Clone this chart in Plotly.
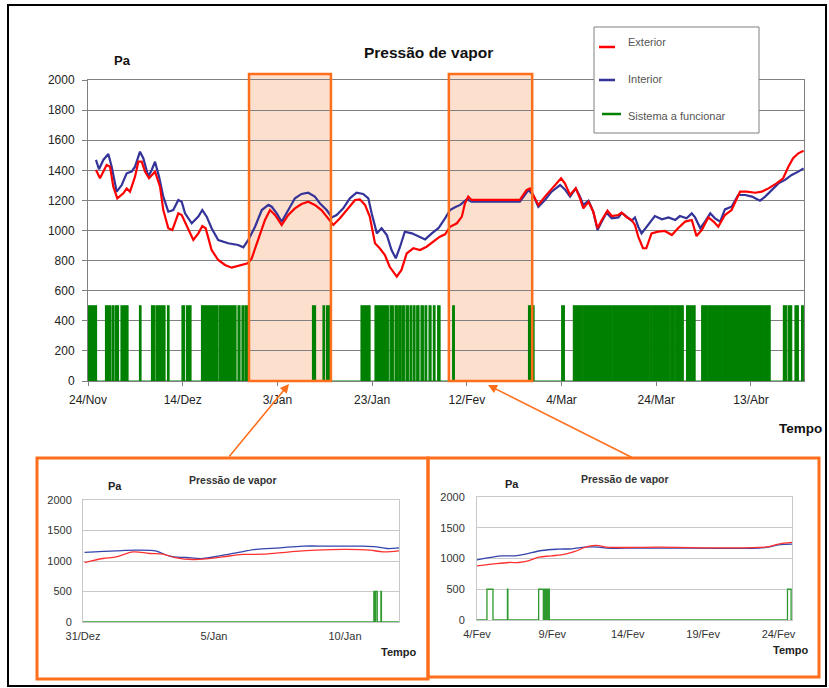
import pandas as pd
import plotly.graph_objects as go

# ---------------- DATA ----------------
START_MAIN = pd.Timestamp("2006-11-24")
START_IN1 = pd.Timestamp("2006-12-31")
START_IN2 = pd.Timestamp("2007-02-04")

main_tick_days = [0, 20, 40, 60, 80, 100, 120, 140]
main_tick_labels = ["24/Nov", "14/Dez", "3/Jan", "23/Jan", "12/Fev", "4/Mar", "24/Mar", "13/Abr"]
main_span_days = 151.2

interior_days = [1.69, 2.32, 3.23, 4.29, 5.0, 6.06, 7.12, 8.17, 9.23, 9.93, 10.98, 11.68, 12.73, 13.45,
                 14.15, 15.0, 15.9, 16.96, 18.0, 19.07, 19.79, 20.49, 21.9, 23.3, 24.14, 25.07, 26.1,
                 27.5, 29.6, 31.7, 32.8, 33.85, 35.27, 36.7, 38.1, 38.8, 39.85, 40.9, 42.3, 43.7, 45.1,
                 46.5, 47.9, 49.0, 50.4, 51.5, 52.5, 53.9, 55.3, 56.7, 58.1, 59.2, 59.9, 61.0, 62.0,
                 63.1, 64.1, 65.0, 65.9, 66.9, 68.4, 69.8, 71.2, 72.6, 74.0, 75.4, 76.45, 77.5, 78.6,
                 80.0, 81.0, 86.0, 91.2, 93.0, 94.0, 95.1, 96.5, 97.9, 99.7, 100.7, 101.8, 103.0,
                 103.9, 104.6, 105.7, 106.7, 107.6, 108.5, 109.5, 110.6, 112.0, 112.7, 113.8, 114.8,
                 115.5, 116.2, 116.9, 118.3, 119.7, 121.2, 122.6, 124.0, 125.0, 126.4, 127.5, 128.2,
                 129.3, 130.3, 131.4, 132.4, 133.5, 134.5, 135.9, 137.3, 138.8, 140.2, 141.9, 143.0,
                 144.4, 145.8, 147.2, 148.6, 150.0, 151.1]
interior_pa = [1469, 1407, 1469, 1508, 1424, 1258, 1302, 1380, 1391, 1424, 1524, 1480, 1358, 1402,
               1457, 1358, 1225, 1125, 1136, 1203, 1191, 1114, 1048, 1092, 1136, 1092, 1015,
               937, 915, 904, 888, 937, 1025, 1136, 1170, 1158, 1114, 1058, 1136, 1214, 1243,
               1251, 1225, 1180, 1136, 1087, 1103, 1147, 1214, 1251, 1243, 1214, 1114, 981, 1015,
               970, 870, 815, 892, 992, 981, 959, 941, 981, 1015, 1081, 1136, 1154, 1170,
               1207, 1191, 1191, 1191, 1269, 1236, 1158, 1203, 1258, 1302, 1273, 1225, 1280,
               1225, 1170, 1198, 1125, 1003, 1059, 1118, 1081, 1087, 1118, 1087, 1065,
               1087, 1025, 981, 1037, 1096, 1074, 1087, 1070, 1096, 1081, 1114, 1087,
               1015, 1059, 1114, 1081, 1059, 1140, 1158, 1236, 1236, 1225, 1198, 1225,
               1269, 1313, 1336, 1369, 1391, 1413]

exterior_days = [1.69, 2.53, 3.94, 4.65, 5.35, 6.19, 7.46, 8.17, 8.87, 9.93, 10.63, 11.34, 12.04, 12.88,
                 14.15, 15.21, 15.9, 16.96, 17.81, 19.07, 19.79, 21.19, 22.24, 23.3, 24.14, 24.85,
                 26.1, 27.5, 28.93, 30.34, 31.74, 33.73, 34.57, 35.97, 37.38, 38.44, 39.49, 40.9,
                 42.3, 43.7, 45.1, 46.5, 47.9, 49.3, 50.75, 51.8, 53.2, 55.0, 56.4, 57.4, 58.5, 59.5,
                 60.6, 61.6, 62.7, 63.7, 65.2, 66.2, 67.3, 68.7, 70.1, 71.5, 72.9, 74.3, 75.4, 76.45,
                 77.9, 78.95, 79.6, 80.3, 81.0, 91.2, 92.6, 93.3, 94.0, 95.1, 96.5, 98.6, 99.9,
                 100.7, 101.8, 103.0, 103.9, 104.6, 105.7, 106.7, 107.6, 108.5, 109.7, 110.6, 112.0,
                 112.7, 113.8, 114.8, 115.5, 116.2, 117.2, 117.9, 119.0, 120.4, 121.8, 123.3, 124.6,
                 126.1, 127.5, 128.5, 129.6, 131.0, 132.1, 133.1, 134.5, 135.9, 137.7, 139.1, 140.9,
                 142.3, 143.7, 145.4, 146.8, 147.9, 148.9, 150.0, 151.1]
exterior_pa = [1402, 1347, 1435, 1424, 1291, 1214, 1247, 1280, 1258, 1358, 1457, 1457, 1391, 1347,
               1391, 1291, 1136, 1015, 1003, 1114, 1103, 1003, 937, 981, 1030, 1015,
               870, 804, 771, 753, 764, 782, 815, 937, 1070, 1136, 1103, 1037,
               1103, 1147, 1176, 1191, 1170, 1136, 1081, 1037, 1081, 1147, 1203, 1207, 1170, 1092,
               915, 882, 837, 759, 693, 738, 848, 882, 870, 892, 926, 959, 975, 1025,
               1048, 1092, 1180, 1225, 1203, 1203, 1269, 1280, 1236, 1170, 1225, 1302, 1347,
               1313, 1236, 1280, 1214, 1147, 1191, 1125, 1015, 1070, 1132, 1096, 1103,
               1118, 1087, 1070, 1037, 959, 882, 882, 981, 992, 997, 970, 1015,
               1059, 1070, 963, 1003, 1087, 1059, 1025, 1103, 1136, 1258, 1258, 1251,
               1258, 1280, 1313, 1347, 1424, 1480, 1513, 1530]

system_on_value = 500
system_on_intervals = [
    (0.11, 1.80), (3.70, 4.12), (4.33, 4.75), (5.07, 5.49), (5.81, 6.44), (6.97, 7.39), (7.60, 8.45),
    (10.88, 11.19), (13.41, 14.15), (14.47, 15.21), (15.42, 16.26), (16.79, 17.11),
    (19.85, 20.38), (20.80, 21.12), (21.33, 21.75),
    (23.97, 25.03), (25.24, 26.40), (26.61, 27.46), (27.77, 28.19), (28.41, 28.93), (29.14, 29.88),
    (30.10, 30.62), (30.83, 31.26), (31.68, 32.10), (32.52, 32.95), (33.26, 33.69),
    (47.41, 48.05), (49.63, 49.95), (50.37, 51.00),
    (57.66, 59.56), (60.61, 63.42), (63.78, 64.48), (64.84, 65.41), (65.68, 66.10), (66.38, 66.80),
    (67.16, 67.65), (68.00, 68.36), (68.70, 69.06), (69.42, 69.90), (70.33, 70.81), (71.17, 71.53),
    (72.02, 72.44), (72.93, 73.28), (73.85, 74.34),
    (77.02, 77.36), (93.03, 94.19), (100.04, 100.59),
    (102.5, 104.5), (104.6, 107.7), (107.8, 108.55), (108.7, 110.55), (110.7, 117.95),
    (118.05, 118.65), (118.75, 119.3), (119.45, 121.1), (121.2, 122.85), (122.95, 123.9),
    (124.0, 125.7), (126.4, 127.2), (127.4, 128.2),
    (129.6, 130.9), (131.05, 133.8), (133.9, 135.9), (136.0, 139.7), (139.9, 142.95), (143.05, 144.05),
    (146.85, 147.55), (147.9, 148.6), (149.3, 150.0), (150.7, 151.05),
]
zoom_windows = [(34.0, 51.3), (76.2, 93.8)]

# inset 1 (31/Dez - 12/Jan)
in1_tick_days = [0, 5, 10]
in1_tick_labels = ["31/Dez", "5/Jan", "10/Jan"]
in1_span_days = 12.06
in1_interior_days = [0.06, 1.27, 2.04, 2.8, 3.3, 3.94, 4.58, 5.15, 5.85, 6.6, 7.5, 8.4, 9.4, 10.7, 11.2, 11.6, 12.06]
in1_interior_pa = [1140, 1167, 1178, 1162, 1079, 1057, 1041, 1079, 1134, 1189, 1216, 1244, 1244, 1244, 1233, 1205, 1216]
in1_exterior_days = [0.06, 0.76, 1.27, 1.91, 2.54, 3.05, 3.56, 4.2, 4.71, 5.34, 6.1, 6.87, 7.9, 8.9, 10.05, 10.94, 11.45, 12.06]
in1_exterior_pa = [975, 1041, 1068, 1150, 1123, 1112, 1052, 1025, 1036, 1068, 1107, 1112, 1150, 1178, 1189, 1178, 1150, 1167]
in1_system_intervals = [(11.10, 11.14), (11.17, 11.23), (11.37, 11.39)]

# inset 2 (4/Fev - 24/Fev)
in2_tick_days = [0, 5, 10, 15, 20]
in2_tick_labels = ["4/Fev", "9/Fev", "14/Fev", "19/Fev", "24/Fev"]
in2_span_days = 20.9
in2_interior_days = [0.0, 1.0, 1.66, 2.54, 3.2, 4.3, 5.4, 6.3, 7.2, 8.07, 8.6, 9.8, 14.25, 18.7, 19.3, 20.0, 20.9]
in2_interior_pa = [978, 1022, 1043, 1043, 1071, 1130, 1152, 1158, 1185, 1185, 1168, 1168, 1168, 1168, 1185, 1223, 1234]
in2_exterior_days = [0.0, 1.0, 2.1, 2.76, 3.4, 4.1, 4.94, 5.86, 6.5, 7.2, 7.85, 8.18, 8.6, 12.0, 19.1, 20.0, 20.9]
in2_exterior_pa = [880, 908, 935, 935, 962, 1022, 1043, 1071, 1114, 1185, 1212, 1207, 1185, 1185, 1185, 1234, 1261]
in2_system_intervals = [(0.66, 1.06), (2.02, 2.05), (4.09, 4.40), (4.46, 4.50), (4.53, 4.60),
                        (4.62, 4.70), (4.72, 4.80), (20.6, 20.84)]

# ---------------- HELPERS ----------------
W, H = 829, 688
FONT = "Arial, Liberation Sans, sans-serif"
RED, BLUE, GREEN = "#FF0000", "#333399", "#008000"
ORANGE = "#FF6E1A"


def dates(start, days):
    return start + pd.to_timedelta(pd.Series(days, dtype=float), unit="D")


def step_series(intervals, end, high):
    xs, ys = [0.0], [0]
    for s, e in intervals:
        xs += [s, s, e, e]
        ys += [0, high, high, 0]
    xs.append(end)
    ys.append(0)
    return xs, ys


def px(x):
    return x / W


def py(y):
    return 1 - y / H


fig = go.Figure()

# main chart
gx, gy = step_series(system_on_intervals, main_span_days, system_on_value)
fig.add_trace(go.Scatter(x=dates(START_MAIN, gx), y=gy, mode="lines", fill="tozeroy",
                         fillcolor=GREEN, line=dict(color=GREEN, width=1.2),
                         xaxis="x", yaxis="y", name="Sistema a funcionar"))
fig.add_trace(go.Scatter(x=dates(START_MAIN, interior_days), y=interior_pa, mode="lines",
                         line=dict(color=BLUE, width=2.2), xaxis="x", yaxis="y", name="Interior"))
fig.add_trace(go.Scatter(x=dates(START_MAIN, exterior_days), y=exterior_pa, mode="lines",
                         line=dict(color=RED, width=2.2), xaxis="x", yaxis="y", name="Exterior"))

# inset 1
g1x, g1y = step_series(in1_system_intervals, in1_span_days, system_on_value)
fig.add_trace(go.Scatter(x=dates(START_IN1, g1x), y=g1y, mode="lines",
                         line=dict(color="#2E9A2E", width=1.3), xaxis="x2", yaxis="y2"))
fig.add_trace(go.Scatter(x=dates(START_IN1, in1_interior_days), y=in1_interior_pa, mode="lines",
                         line=dict(color="#3344AA", width=1.3, shape="spline"), xaxis="x2", yaxis="y2"))
fig.add_trace(go.Scatter(x=dates(START_IN1, in1_exterior_days), y=in1_exterior_pa, mode="lines",
                         line=dict(color="#FF3030", width=1.3, shape="spline"), xaxis="x2", yaxis="y2"))

# inset 2
g2x, g2y = step_series(in2_system_intervals, in2_span_days, system_on_value)
fig.add_trace(go.Scatter(x=dates(START_IN2, g2x), y=g2y, mode="lines",
                         line=dict(color="#2E9A2E", width=1.3), xaxis="x3", yaxis="y3"))
fig.add_trace(go.Scatter(x=dates(START_IN2, in2_interior_days), y=in2_interior_pa, mode="lines",
                         line=dict(color="#3344AA", width=1.3, shape="spline"), xaxis="x3", yaxis="y3"))
fig.add_trace(go.Scatter(x=dates(START_IN2, in2_exterior_days), y=in2_exterior_pa, mode="lines",
                         line=dict(color="#FF3030", width=1.3, shape="spline"), xaxis="x3", yaxis="y3"))

tickfont = dict(family=FONT, size=12, color="#222")
smallfont = dict(family=FONT, size=11, color="#333")


def xaxis_cfg(start, span, tdays, tlabels, domain, anchor, font, linecolor, ticks):
    return dict(domain=domain, anchor=anchor, type="date", automargin=False,
                range=[start, start + pd.Timedelta(days=span)],
                tickvals=list(dates(start, tdays)), ticktext=tlabels,
                showgrid=False, zeroline=False, showline=True, linecolor=linecolor, mirror=True,
                ticks=ticks, ticklen=4, tickcolor="#808080", tickfont=font, ticklabelstandoff=4)


def yaxis_cfg(dtick, domain, anchor, font, gridcolor, ticks, standoff):
    return dict(domain=domain, anchor=anchor, range=[0, 2000], dtick=dtick, automargin=False,
                showgrid=True, gridcolor=gridcolor, gridwidth=1, zeroline=False,
                showline=True, linecolor=gridcolor, mirror=True,
                ticks=ticks, ticklen=5, tickcolor="#808080", tickfont=font,
                ticklabelstandoff=standoff)


layout = dict(
    width=W, height=H, margin=dict(l=0, r=0, t=0, b=0, pad=0, autoexpand=False),
    paper_bgcolor="white", plot_bgcolor="white", showlegend=False,
    xaxis=xaxis_cfg(START_MAIN, main_span_days, main_tick_days, main_tick_labels,
                    [px(88), px(804)], "y", tickfont, "#808080", "outside"),
    yaxis=yaxis_cfg(200, [py(381), py(80)], "x", tickfont, "#808080", "outside", 5),
    xaxis2=xaxis_cfg(START_IN1, in1_span_days, in1_tick_days, in1_tick_labels,
                     [px(83), px(399)], "y2", smallfont, "#C8C8C8", ""),
    yaxis2=yaxis_cfg(500, [py(622), py(500)], "x2", smallfont, "#C8C8C8", "", 8),
    xaxis3=xaxis_cfg(START_IN2, in2_span_days, in2_tick_days, in2_tick_labels,
                     [px(477), px(792)], "y3", smallfont, "#C8C8C8", ""),
    yaxis3=yaxis_cfg(500, [py(620), py(497)], "x3", smallfont, "#C8C8C8", "", 9),
)

shapes = []
# highlighted windows
for s, e in zoom_windows:
    x0 = START_MAIN + pd.Timedelta(days=s)
    x1 = START_MAIN + pd.Timedelta(days=e)
    shapes.append(dict(type="rect", xref="x", yref="paper", x0=x0, x1=x1, y0=py(381), y1=py(74),
                       fillcolor="rgba(250,170,125,0.38)", line=dict(width=0), layer="below"))
    shapes.append(dict(type="rect", xref="x", yref="paper", x0=x0, x1=x1, y0=py(381), y1=py(74),
                       fillcolor="rgba(0,0,0,0)", line=dict(color=ORANGE, width=2.5), layer="above"))
# legend box
shapes.append(dict(type="rect", xref="paper", yref="paper", x0=px(594), x1=px(759), y0=py(133), y1=py(27),
                   fillcolor="white", line=dict(color="#808080", width=1), layer="above"))
for (x0, x1, yy, col) in [(599, 615, 47, RED), (599, 615, 80, BLUE), (602, 621, 114, GREEN)]:
    shapes.append(dict(type="line", xref="paper", yref="paper", x0=px(x0), x1=px(x1), y0=py(yy), y1=py(yy),
                       line=dict(color=col, width=2.5), layer="above"))
# outer frame
shapes.append(dict(type="rect", xref="paper", yref="paper", x0=px(8), x1=px(826), y0=py(686), y1=py(5),
                   fillcolor="rgba(0,0,0,0)", line=dict(color="black", width=2), layer="above"))
# inset frames
for (x0, x1, y0, y1) in [(37, 428, 458, 679), (428, 819, 458, 677)]:
    shapes.append(dict(type="rect", xref="paper", yref="paper", x0=px(x0), x1=px(x1), y0=py(y1), y1=py(y0),
                       fillcolor="rgba(0,0,0,0)", line=dict(color=ORANGE, width=3), layer="above"))

ann = []


def text(x, y, t, size, bold=False, color="#222", xanchor="center"):
    ann.append(dict(xref="paper", yref="paper", x=px(x), y=py(y), text=f"<b>{t}</b>" if bold else t,
                    showarrow=False, xanchor=xanchor, yanchor="middle",
                    font=dict(family=FONT, size=size, color=color)))


text(428, 52, "Pressão de vapor", 15.5, True, "#111")
text(122, 60, "Pa", 13, True, "#111")
text(800, 428, "Tempo", 13.5, True, "#111")
text(626, 42, "Exterior", 11, False, "#555", "left")
text(626, 79, "Interior", 11, False, "#555", "left")
text(626, 116, "Sistema a funcionar", 11, False, "#555", "left")
# insets
text(233, 480, "Pressão de vapor", 10.5, True, "#333")
text(115, 486, "Pa", 11, True, "#222")
text(399, 652, "Tempo", 11, True, "#222")
text(625, 479, "Pressão de vapor", 10.5, True, "#333")
text(512, 484, "Pa", 11, True, "#222")
text(791, 650, "Tempo", 11, True, "#222")

# arrows
for (hx, hy, tx, ty) in [(289, 384, 228, 458), (488, 385, 633, 458)]:
    ann.append(dict(xref="paper", yref="paper", x=px(hx), y=py(hy), ax=tx - hx, ay=ty - hy,
                    text="", showarrow=True, arrowhead=2, arrowsize=1.2, arrowwidth=1.5,
                    arrowcolor=ORANGE, standoff=0))

layout["shapes"] = shapes
layout["annotations"] = ann
fig.update_layout(**layout)
fig.write_html("out.html", config={"displayModeBar": False},
               post_script="document.body.style.margin='0px';document.body.style.overflow='hidden';")
